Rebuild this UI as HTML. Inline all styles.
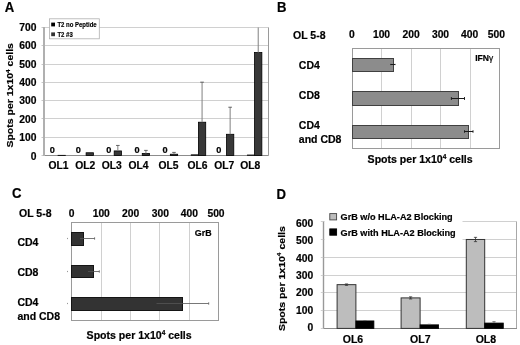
<!DOCTYPE html>
<html><head><meta charset="utf-8"><style>
html,body{margin:0;padding:0;background:#fff;width:520px;height:345px;overflow:hidden}
svg{display:block;will-change:transform}
text{font-family:"Liberation Sans",sans-serif;font-weight:bold;stroke:#000;stroke-width:0.2px;paint-order:stroke}
</style></head><body>
<svg width="520" height="345" viewBox="0 0 520 345" font-family="Liberation Sans, sans-serif" font-weight="bold">
<rect width="520" height="345" fill="#fff"/>
<text transform="translate(4.7,12.0) scale(0.9,1)" font-size="14.6">A</text>
<line x1="44.0" y1="137.5" x2="268.6" y2="137.5" stroke="#d0d0d0" stroke-width="1"/>
<line x1="44.0" y1="118.5" x2="268.6" y2="118.5" stroke="#d0d0d0" stroke-width="1"/>
<line x1="44.0" y1="100.5" x2="268.6" y2="100.5" stroke="#d0d0d0" stroke-width="1"/>
<line x1="44.0" y1="82.5" x2="268.6" y2="82.5" stroke="#d0d0d0" stroke-width="1"/>
<line x1="44.0" y1="64.5" x2="268.6" y2="64.5" stroke="#d0d0d0" stroke-width="1"/>
<line x1="44.0" y1="45.5" x2="268.6" y2="45.5" stroke="#d0d0d0" stroke-width="1"/>
<line x1="44.0" y1="27.5" x2="268.6" y2="27.5" stroke="#d0d0d0" stroke-width="1"/>
<line x1="268.5" y1="27.5" x2="268.5" y2="155.5" stroke="#9a9a9a" stroke-width="1"/>
<line x1="44.0" y1="27.0" x2="44.0" y2="156.0" stroke="#b0b0b0" stroke-width="2"/>
<line x1="45" y1="155.5" x2="268.6" y2="155.5" stroke="#8c8c8c" stroke-width="1"/>
<line x1="41.5" y1="155.5" x2="43" y2="155.5" stroke="#c8c8c8" stroke-width="1"/>
<text x="36.40" y="159.70" font-size="10.3" text-anchor="end" fill="#000" >0</text>
<line x1="41.5" y1="137.5" x2="43" y2="137.5" stroke="#c8c8c8" stroke-width="1"/>
<text x="36.40" y="141.27" font-size="10.3" text-anchor="end" fill="#000" >100</text>
<line x1="41.5" y1="118.5" x2="43" y2="118.5" stroke="#c8c8c8" stroke-width="1"/>
<text x="36.40" y="122.84" font-size="10.3" text-anchor="end" fill="#000" >200</text>
<line x1="41.5" y1="100.5" x2="43" y2="100.5" stroke="#c8c8c8" stroke-width="1"/>
<text x="36.40" y="104.41" font-size="10.3" text-anchor="end" fill="#000" >300</text>
<line x1="41.5" y1="82.5" x2="43" y2="82.5" stroke="#c8c8c8" stroke-width="1"/>
<text x="36.40" y="85.98" font-size="10.3" text-anchor="end" fill="#000" >400</text>
<line x1="41.5" y1="64.5" x2="43" y2="64.5" stroke="#c8c8c8" stroke-width="1"/>
<text x="36.40" y="67.55" font-size="10.3" text-anchor="end" fill="#000" >500</text>
<line x1="41.5" y1="45.5" x2="43" y2="45.5" stroke="#c8c8c8" stroke-width="1"/>
<text x="36.40" y="49.13" font-size="10.3" text-anchor="end" fill="#000" >600</text>
<line x1="41.5" y1="27.5" x2="43" y2="27.5" stroke="#c8c8c8" stroke-width="1"/>
<text x="36.40" y="30.70" font-size="10.3" text-anchor="end" fill="#000" >700</text>
<text transform="translate(13.3,95.3) rotate(-90) scale(1,0.92)" font-size="10.5" text-anchor="middle">Spots per 1x10<tspan font-size="6.51" dy="-3.99">4</tspan><tspan dy="3.99"> cells</tspan></text>
<text x="52.40" y="152.60" font-size="9.2" text-anchor="middle" fill="#000" >0</text>
<rect x="58.04" y="155.32" width="7.30" height="0.18" fill="#383838" stroke="#000" stroke-width="0.8"/>
<text x="58.50" y="169.00" font-size="10.3" text-anchor="middle" fill="#000" >OL1</text>
<text x="78.30" y="152.60" font-size="9.2" text-anchor="middle" fill="#000" >0</text>
<rect x="86.11" y="152.76" width="7.30" height="2.74" fill="#383838" stroke="#000" stroke-width="0.8"/>
<text x="85.20" y="169.00" font-size="10.3" text-anchor="middle" fill="#000" >OL2</text>
<text x="108.90" y="152.60" font-size="9.2" text-anchor="middle" fill="#000" >0</text>
<rect x="114.19" y="150.93" width="7.30" height="4.57" fill="#383838" stroke="#000" stroke-width="0.8"/>
<line x1="117.8375" y1="150.92857142857142" x2="117.8375" y2="145.44285714285715" stroke="#808080" stroke-width="1.0"/>
<line x1="116.03750000000001" y1="145.44285714285715" x2="119.6375" y2="145.44285714285715" stroke="#555" stroke-width="0.9"/>
<text x="111.80" y="169.00" font-size="10.3" text-anchor="middle" fill="#000" >OL3</text>
<text x="137.00" y="152.60" font-size="9.2" text-anchor="middle" fill="#000" >0</text>
<rect x="142.26" y="153.49" width="7.30" height="2.01" fill="#383838" stroke="#000" stroke-width="0.8"/>
<line x1="145.91250000000002" y1="153.48857142857142" x2="145.91250000000002" y2="150.38" stroke="#808080" stroke-width="1.0"/>
<line x1="144.1125" y1="150.38" x2="147.71250000000003" y2="150.38" stroke="#555" stroke-width="0.9"/>
<text x="138.50" y="169.00" font-size="10.3" text-anchor="middle" fill="#000" >OL4</text>
<text x="165.00" y="152.60" font-size="9.2" text-anchor="middle" fill="#000" >0</text>
<rect x="170.34" y="154.22" width="7.30" height="1.28" fill="#383838" stroke="#000" stroke-width="0.8"/>
<line x1="173.9875" y1="154.22" x2="173.9875" y2="152.39142857142858" stroke="#808080" stroke-width="1.0"/>
<line x1="172.1875" y1="152.39142857142858" x2="175.78750000000002" y2="152.39142857142858" stroke="#555" stroke-width="0.9"/>
<text x="168.50" y="169.00" font-size="10.3" text-anchor="middle" fill="#000" >OL5</text>
<rect x="191.11" y="154.77" width="7.30" height="0.73" fill="#222" stroke="#000" stroke-width="0.6"/>
<rect x="198.41" y="122.22" width="7.30" height="33.28" fill="#383838" stroke="#000" stroke-width="0.8"/>
<line x1="202.06250000000003" y1="122.22" x2="202.06250000000003" y2="82.17428571428572" stroke="#808080" stroke-width="1.0"/>
<line x1="200.26250000000002" y1="82.17428571428572" x2="203.86250000000004" y2="82.17428571428572" stroke="#555" stroke-width="0.9"/>
<text x="197.50" y="169.00" font-size="10.3" text-anchor="middle" fill="#000" >OL6</text>
<text x="218.90" y="152.60" font-size="9.2" text-anchor="middle" fill="#000" >0</text>
<rect x="226.49" y="134.29" width="7.30" height="21.21" fill="#383838" stroke="#000" stroke-width="0.8"/>
<line x1="230.13750000000002" y1="134.28857142857143" x2="230.13750000000002" y2="107.22571428571428" stroke="#808080" stroke-width="1.0"/>
<line x1="228.3375" y1="107.22571428571428" x2="231.93750000000003" y2="107.22571428571428" stroke="#555" stroke-width="0.9"/>
<text x="224.20" y="169.00" font-size="10.3" text-anchor="middle" fill="#000" >OL7</text>
<rect x="247.26" y="154.95" width="7.30" height="0.55" fill="#222" stroke="#000" stroke-width="0.6"/>
<rect x="254.56" y="52.55" width="7.30" height="102.95" fill="#383838" stroke="#000" stroke-width="0.8"/>
<line x1="258.21250000000003" y1="52.55142857142857" x2="258.21250000000003" y2="27.5" stroke="#808080" stroke-width="1.0"/>
<text x="250.20" y="169.00" font-size="10.3" text-anchor="middle" fill="#000" >OL8</text>
<rect x="49.50" y="18.80" width="49.80" height="20.00" fill="#fff" stroke="#b0b0b0" stroke-width="0.8"/>
<rect x="51.20" y="22.60" width="3.80" height="3.80" fill="#000"/>
<text transform="translate(57.4,27.0) scale(1,1.15)" font-size="6" style="stroke-width:0.15px">T2 no Peptide</text>
<rect x="51.20" y="32.40" width="3.80" height="3.80" fill="#333"/>
<text transform="translate(57.4,36.8) scale(1,1.15)" font-size="6" style="stroke-width:0.15px">T2 #3</text>
<text transform="translate(277.0,11.6) scale(0.9,1)" font-size="14.6">B</text>
<text x="293.00" y="38.80" font-size="10.5" text-anchor="start" fill="#000" >OL 5-8</text>
<line x1="381.5" y1="48.5" x2="381.5" y2="148.5" stroke="#d0d0d0" stroke-width="1"/>
<line x1="411.5" y1="48.5" x2="411.5" y2="148.5" stroke="#d0d0d0" stroke-width="1"/>
<line x1="440.5" y1="48.5" x2="440.5" y2="148.5" stroke="#d0d0d0" stroke-width="1"/>
<line x1="470.5" y1="48.5" x2="470.5" y2="148.5" stroke="#d0d0d0" stroke-width="1"/>
<rect x="352.5" y="48.5" width="147.00" height="100.00" fill="none" stroke="#9a9a9a" stroke-width="1"/>
<text x="351.75" y="37.90" font-size="10.3" text-anchor="middle" fill="#000" >0</text>
<text x="381.50" y="37.90" font-size="10.3" text-anchor="middle" fill="#000" >100</text>
<text x="411.20" y="37.90" font-size="10.3" text-anchor="middle" fill="#000" >200</text>
<text x="440.50" y="37.90" font-size="10.3" text-anchor="middle" fill="#000" >300</text>
<text x="469.70" y="37.90" font-size="10.3" text-anchor="middle" fill="#000" >400</text>
<text x="496.40" y="37.90" font-size="10.3" text-anchor="middle" fill="#000" >500</text>
<rect x="352.5" y="58.5" width="41.00" height="13.00" fill="#8c8c8c" stroke="#404040" stroke-width="1"/>
<line x1="390.8" y1="64.5" x2="395.0" y2="64.5" stroke="#1a1a1a" stroke-width="1.0"/>
<line x1="390.8" y1="63.9" x2="390.8" y2="65.1" stroke="#1a1a1a" stroke-width="1.0"/>
<line x1="395.0" y1="63.9" x2="395.0" y2="65.1" stroke="#1a1a1a" stroke-width="1.0"/>
<rect x="352.5" y="91.5" width="106.00" height="14.00" fill="#8c8c8c" stroke="#404040" stroke-width="1"/>
<line x1="451.4" y1="98.5" x2="464.5" y2="98.5" stroke="#1a1a1a" stroke-width="1.0"/>
<line x1="451.4" y1="97.1" x2="451.4" y2="99.9" stroke="#1a1a1a" stroke-width="1.0"/>
<line x1="464.5" y1="97.1" x2="464.5" y2="99.9" stroke="#1a1a1a" stroke-width="1.0"/>
<rect x="352.5" y="125.5" width="116.00" height="13.00" fill="#8c8c8c" stroke="#404040" stroke-width="1"/>
<line x1="464.5" y1="131.5" x2="473.0" y2="131.5" stroke="#1a1a1a" stroke-width="1.0"/>
<line x1="464.5" y1="130.3" x2="464.5" y2="132.7" stroke="#1a1a1a" stroke-width="1.0"/>
<line x1="473.0" y1="130.3" x2="473.0" y2="132.7" stroke="#1a1a1a" stroke-width="1.0"/>
<text x="475.2" y="60.8" font-size="8.6">IFN<tspan font-size="8.4" font-weight="normal">&#947;</tspan></text>
<text x="298.80" y="69.00" font-size="10.5" text-anchor="start" fill="#000" >CD4</text>
<text x="298.80" y="99.20" font-size="10.5" text-anchor="start" fill="#000" >CD8</text>
<text x="298.80" y="129.00" font-size="10.5" text-anchor="start" fill="#000" >CD4</text>
<text x="298.80" y="142.80" font-size="10.5" text-anchor="start" fill="#000" >and CD8</text>
<text x="367.6" y="162.7" font-size="10.55">Spots per 1x10<tspan font-size="6.54" dy="-4.01">4</tspan><tspan dy="4.01"> cells</tspan></text>
<text transform="translate(11.9,198.3) scale(0.9,1)" font-size="14.6">C</text>
<text x="19.00" y="216.50" font-size="10.5" text-anchor="start" fill="#000" >OL 5-8</text>
<line x1="101.5" y1="222.5" x2="101.5" y2="320.5" stroke="#d0d0d0" stroke-width="1"/>
<line x1="130.5" y1="222.5" x2="130.5" y2="320.5" stroke="#d0d0d0" stroke-width="1"/>
<line x1="159.5" y1="222.5" x2="159.5" y2="320.5" stroke="#d0d0d0" stroke-width="1"/>
<line x1="189.5" y1="222.5" x2="189.5" y2="320.5" stroke="#d0d0d0" stroke-width="1"/>
<rect x="71.5" y="222.5" width="147.00" height="98.00" fill="none" stroke="#9a9a9a" stroke-width="1"/>
<text x="71.50" y="216.70" font-size="10.3" text-anchor="middle" fill="#000" >0</text>
<text x="101.25" y="216.70" font-size="10.3" text-anchor="middle" fill="#000" >100</text>
<text x="130.60" y="216.70" font-size="10.3" text-anchor="middle" fill="#000" >200</text>
<text x="160.40" y="216.70" font-size="10.3" text-anchor="middle" fill="#000" >300</text>
<text x="189.40" y="216.70" font-size="10.3" text-anchor="middle" fill="#000" >400</text>
<text x="216.00" y="216.70" font-size="10.3" text-anchor="middle" fill="#000" >500</text>
<rect x="71.5" y="232.5" width="12.00" height="13.00" fill="#333" stroke="#151515" stroke-width="1"/>
<line x1="80" y1="238.5" x2="94.6" y2="238.5" stroke="#555" stroke-width="0.8"/>
<line x1="94.6" y1="237.3" x2="94.6" y2="239.7" stroke="#555" stroke-width="0.8"/>
<rect x="67" y="237.90" width="1" height="1.2" fill="#999"/>
<rect x="71.5" y="265.5" width="22.00" height="12.00" fill="#333" stroke="#151515" stroke-width="1"/>
<line x1="88" y1="271.5" x2="99.3" y2="271.5" stroke="#555" stroke-width="0.8"/>
<line x1="99.3" y1="270.3" x2="99.3" y2="272.7" stroke="#555" stroke-width="0.8"/>
<rect x="67" y="270.90" width="1" height="1.2" fill="#999"/>
<rect x="71.5" y="297.5" width="111.00" height="13.00" fill="#333" stroke="#151515" stroke-width="1"/>
<line x1="156.5" y1="303.5" x2="208.7" y2="303.5" stroke="#555" stroke-width="0.8"/>
<line x1="208.7" y1="302.3" x2="208.7" y2="304.7" stroke="#555" stroke-width="0.8"/>
<rect x="67" y="302.90" width="1" height="1.2" fill="#999"/>
<text x="194.80" y="236.30" font-size="8.9" text-anchor="start" fill="#000" >GrB</text>
<text x="17.40" y="245.60" font-size="10.5" text-anchor="start" fill="#000" >CD4</text>
<text x="17.40" y="275.60" font-size="10.5" text-anchor="start" fill="#000" >CD8</text>
<text x="17.40" y="306.00" font-size="10.5" text-anchor="start" fill="#000" >CD4</text>
<text x="17.40" y="320.30" font-size="10.5" text-anchor="start" fill="#000" >and CD8</text>
<text x="86.6" y="338.6" font-size="10.55">Spots per 1x10<tspan font-size="6.54" dy="-4.01">4</tspan><tspan dy="4.01"> cells</tspan></text>
<text transform="translate(276.6,199.0) scale(0.9,1)" font-size="14.6">D</text>
<line x1="323.3" y1="310.5" x2="516.5" y2="310.5" stroke="#d0d0d0" stroke-width="1"/>
<line x1="323.3" y1="292.5" x2="516.5" y2="292.5" stroke="#d0d0d0" stroke-width="1"/>
<line x1="323.3" y1="275.5" x2="516.5" y2="275.5" stroke="#d0d0d0" stroke-width="1"/>
<line x1="323.3" y1="257.5" x2="516.5" y2="257.5" stroke="#d0d0d0" stroke-width="1"/>
<line x1="323.3" y1="239.5" x2="516.5" y2="239.5" stroke="#d0d0d0" stroke-width="1"/>
<line x1="323.3" y1="221.5" x2="516.5" y2="221.5" stroke="#d0d0d0" stroke-width="1"/>
<line x1="516.5" y1="221.5" x2="516.5" y2="328.5" stroke="#a8a8a8" stroke-width="1"/>
<rect x="324.50" y="208.00" width="138.00" height="38.00" fill="#fff"/>
<line x1="323.5" y1="221.5" x2="323.5" y2="328.5" stroke="#999" stroke-width="1.4"/>
<line x1="323.3" y1="328.5" x2="517.0" y2="328.5" stroke="#8c8c8c" stroke-width="1.2"/>
<line x1="320.8" y1="328.5" x2="323.3" y2="328.5" stroke="#d0d0d0" stroke-width="1"/>
<text x="313.20" y="330.90" font-size="10.3" text-anchor="end" fill="#000" >0</text>
<line x1="320.8" y1="310.5" x2="323.3" y2="310.5" stroke="#d0d0d0" stroke-width="1"/>
<text x="313.20" y="313.60" font-size="10.3" text-anchor="end" fill="#000" >100</text>
<line x1="320.8" y1="292.5" x2="323.3" y2="292.5" stroke="#d0d0d0" stroke-width="1"/>
<text x="313.20" y="296.30" font-size="10.3" text-anchor="end" fill="#000" >200</text>
<line x1="320.8" y1="275.5" x2="323.3" y2="275.5" stroke="#d0d0d0" stroke-width="1"/>
<text x="313.20" y="279.00" font-size="10.3" text-anchor="end" fill="#000" >300</text>
<line x1="320.8" y1="257.5" x2="323.3" y2="257.5" stroke="#d0d0d0" stroke-width="1"/>
<text x="313.20" y="261.70" font-size="10.3" text-anchor="end" fill="#000" >400</text>
<line x1="320.8" y1="239.5" x2="323.3" y2="239.5" stroke="#d0d0d0" stroke-width="1"/>
<text x="313.20" y="244.40" font-size="10.3" text-anchor="end" fill="#000" >500</text>
<line x1="320.8" y1="221.5" x2="323.3" y2="221.5" stroke="#d0d0d0" stroke-width="1"/>
<text x="313.20" y="227.10" font-size="10.3" text-anchor="end" fill="#000" >600</text>
<text transform="translate(284.9,278.6) rotate(-90) scale(1,0.92)" font-size="10.55" text-anchor="middle">Spots per 1x10<tspan font-size="6.54" dy="-4.01">4</tspan><tspan dy="4.01"> cells</tspan></text>
<rect x="337.10" y="284.65" width="18.80" height="43.75" fill="#bdbdbd" stroke="#333" stroke-width="1"/>
<line x1="346.5" y1="283.94166666666666" x2="346.5" y2="285.3643333333333" stroke="#333" stroke-width="0.8"/>
<line x1="344.9" y1="283.94166666666666" x2="348.1" y2="283.94166666666666" stroke="#333" stroke-width="0.8"/>
<line x1="344.9" y1="285.3643333333333" x2="348.1" y2="285.3643333333333" stroke="#333" stroke-width="0.8"/>
<rect x="355.90" y="320.93" width="18.00" height="7.47" fill="#000" stroke="#000" stroke-width="0.8"/>
<line x1="364.9" y1="320.57533333333333" x2="364.9" y2="320.931" stroke="#666" stroke-width="0.8"/>
<line x1="363.29999999999995" y1="320.57533333333333" x2="366.5" y2="320.57533333333333" stroke="#666" stroke-width="0.8"/>
<text x="353.00" y="343.30" font-size="10.5" text-anchor="middle" fill="#000" >OL6</text>
<rect x="401.10" y="297.90" width="19.00" height="30.50" fill="#bdbdbd" stroke="#333" stroke-width="1"/>
<line x1="410.6" y1="296.8345833333333" x2="410.6" y2="298.9685833333333" stroke="#333" stroke-width="0.8"/>
<line x1="409.0" y1="296.8345833333333" x2="412.20000000000005" y2="296.8345833333333" stroke="#333" stroke-width="0.8"/>
<line x1="409.0" y1="298.9685833333333" x2="412.20000000000005" y2="298.9685833333333" stroke="#333" stroke-width="0.8"/>
<rect x="420.10" y="324.84" width="18.50" height="3.56" fill="#000" stroke="#000" stroke-width="0.8"/>
<line x1="429.35" y1="324.3098333333333" x2="429.35" y2="324.8433333333333" stroke="#666" stroke-width="0.8"/>
<line x1="427.75" y1="324.3098333333333" x2="430.95000000000005" y2="324.3098333333333" stroke="#666" stroke-width="0.8"/>
<text x="420.30" y="343.30" font-size="10.5" text-anchor="middle" fill="#000" >OL7</text>
<rect x="466.30" y="239.48" width="18.40" height="88.92" fill="#bdbdbd" stroke="#333" stroke-width="1"/>
<line x1="475.5" y1="237.34933333333333" x2="475.5" y2="241.6173333333333" stroke="#333" stroke-width="0.8"/>
<line x1="473.9" y1="237.34933333333333" x2="477.1" y2="237.34933333333333" stroke="#333" stroke-width="0.8"/>
<line x1="473.9" y1="241.6173333333333" x2="477.1" y2="241.6173333333333" stroke="#333" stroke-width="0.8"/>
<rect x="484.70" y="323.06" width="18.60" height="5.33" fill="#000" stroke="#000" stroke-width="0.8"/>
<line x1="494.0" y1="321.6423333333333" x2="494.0" y2="323.065" stroke="#666" stroke-width="0.8"/>
<line x1="492.4" y1="321.6423333333333" x2="495.6" y2="321.6423333333333" stroke="#666" stroke-width="0.8"/>
<text x="485.90" y="343.30" font-size="10.5" text-anchor="middle" fill="#000" >OL8</text>
<rect x="329.80" y="213.60" width="6.80" height="6.30" fill="#bdbdbd" stroke="#444" stroke-width="0.9"/>
<text x="340.60" y="220.20" font-size="9.15" text-anchor="start" fill="#000" >GrB w/o HLA-A2 Blocking</text>
<rect x="329.80" y="228.90" width="6.80" height="6.30" fill="#000" stroke="#000" stroke-width="0.9"/>
<text x="340.60" y="236.00" font-size="9.15" text-anchor="start" fill="#000" >GrB with HLA-A2 Blocking</text>
</svg>
</body></html>
